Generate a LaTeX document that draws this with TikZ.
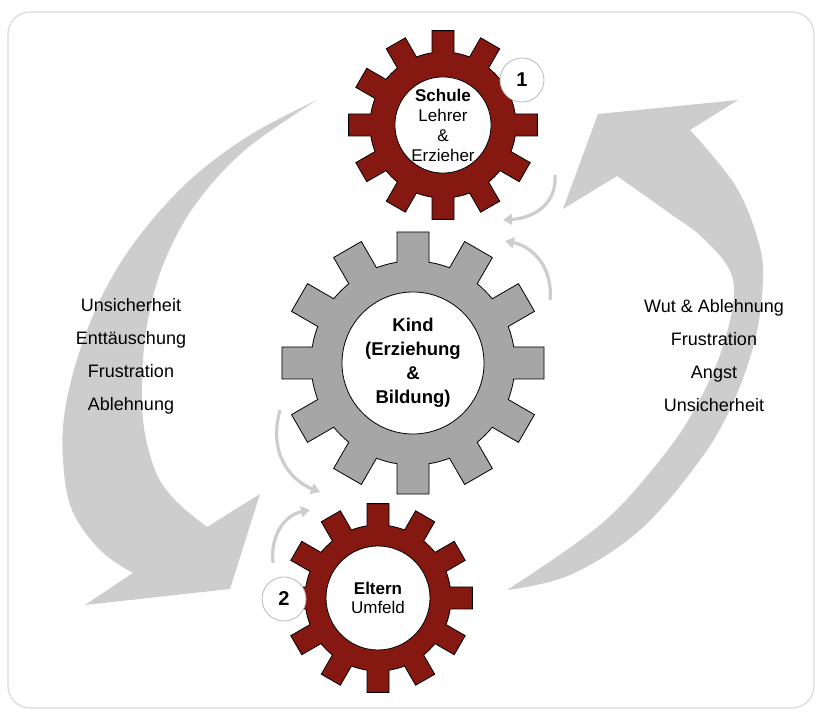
\documentclass[tikz,border=0pt]{standalone}
\usepackage{fontspec}
\setmainfont{Liberation Sans}
\usetikzlibrary{arrows.meta, positioning}
\definecolor{gearRed}{RGB}{133,24,16}
\definecolor{gearGray}{RGB}{166,166,166}
\definecolor{flowGray}{RGB}{205,205,205}
\definecolor{frameGray}{RGB}{218,218,218}

% cog with 12 straight teeth: center, root radius, tip radius, half tooth width, fill
\newcommand{\cogwheel}[5]{%
  \pgfmathsetmacro{\rootang}{asin(#4/#2)}%
  \pgfmathsetmacro{\tipang}{asin(#4/#3)}%
  \draw[fill=#5, line width=0.8pt, shift={#1}] (-\rootang:#2)
    \foreach \a in {0,30,...,330} {
      -- ({\a-\rootang}:#2) -- ({\a-\tipang}:#3) -- ({\a+\tipang}:#3) -- ({\a+\rootang}:#2)
      arc[start angle={\a+\rootang}, end angle={\a+30-\rootang}, radius=#2]
    } -- cycle;}

\begin{document}
\begin{tikzpicture}[x=1pt, y=1pt,
  hub/.style={circle, draw, fill=white, line width=0.8pt, align=center, inner sep=0pt},
  badge/.style={circle, draw=black!28, fill=white, line width=0.8pt, minimum size=44pt,
                inner sep=0pt, font=\fontsize{20}{20}\selectfont\bfseries},
  feeling/.style={align=center, font=\fontsize{18}{33}\selectfont},
  turn/.style={draw=flowGray, line width=3.2pt, -{Triangle[width=11pt,length=9pt]}},
  bigflow/.style={fill=flowGray}
]
\useasboundingbox (0,0) rectangle (820,715);
\draw[frameGray, line width=1.2pt, rounded corners=22pt] (8,7) rectangle (814,703);

% big return arrows
\fill[bigflow] plot[smooth, tension=0.6] coordinates {(317,615) (250,580) (190,535) (140,480)
    (105,425) (80,365) (65,305) (63,255) (72,205) (100,165) (133,142)}
  -- (85,110) -- (230,126) -- (260,221)
  -- plot[smooth, tension=0.6] coordinates {(207,188) (175,215) (155,245) (143,295) (143,355)
    (150,405) (165,455) (195,510) (245,565) (317,615)} -- cycle;
\fill[bigflow] plot[smooth, tension=0.6] coordinates {(507,125) (570,140) (640,185) (700,255)
    (732,310) (755,375) (763,435) (758,475) (735,530) (690,585)}
  -- (738,615) -- (598,601) -- (563,506)
  -- plot[smooth, tension=0.6] coordinates {(617,539) (665,505) (705,475) (733,435) (725,375)
    (697,310) (660,255) (600,190) (507,125)} -- cycle;

\node[feeling] (lefttxt) at (131,359) {Unsicherheit\\Enttäuschung\\Frustration\\Ablehnung};
\node[feeling] (righttxt) at (714,359) {Wut \& Ablehnung\\Frustration\\Angst\\Unsicherheit};

% small turning arrows between the cogs
\coordinate (a1s) at (555,540); \coordinate (a1e) at (503,495);
\coordinate (a2s) at (550,415); \coordinate (a2e) at (505,474);
\coordinate (a3s) at (280,305); \coordinate (a3e) at (320,223);
\coordinate (a4s) at (273,152); \coordinate (a4e) at (310,205);
\draw[turn] (a1s) .. controls (557,512) and (535,497) .. (a1e);
\draw[turn] (a2s) .. controls (553,445) and (535,468) .. (a2e);
\draw[turn] (a3s) .. controls (268,262) and (290,235) .. (a3e);
\draw[turn] (a4s) .. controls (270,180) and (285,200) .. (a4e);

% cogs
\cogwheel{(413,352)}{102}{132}{16}{gearGray}
\cogwheel{(443,590)}{73}{95}{11}{gearRed}
\cogwheel{(378,117)}{73}{95}{11}{gearRed}

\node[hub, minimum size=142pt, font=\fontsize{18.5}{24}\selectfont\bfseries] (kind) at (413,352)
  {Kind\\(Erziehung\\\&\\Bildung)};
\node[hub, minimum size=96pt, font=\fontsize{17}{20}\selectfont] (schule) at (443,590)
  {\textbf{Schule}\\Lehrer\\\&\\Erzieher};
\node[hub, minimum size=104pt, font=\fontsize{17}{19}\selectfont] (eltern) at (378,117)
  {\textbf{Eltern}\\Umfeld};

\node[badge] (num1) at (522,635) {1};
\node[badge] (num2) at (284,116) {2};
\end{tikzpicture}
\end{document}
